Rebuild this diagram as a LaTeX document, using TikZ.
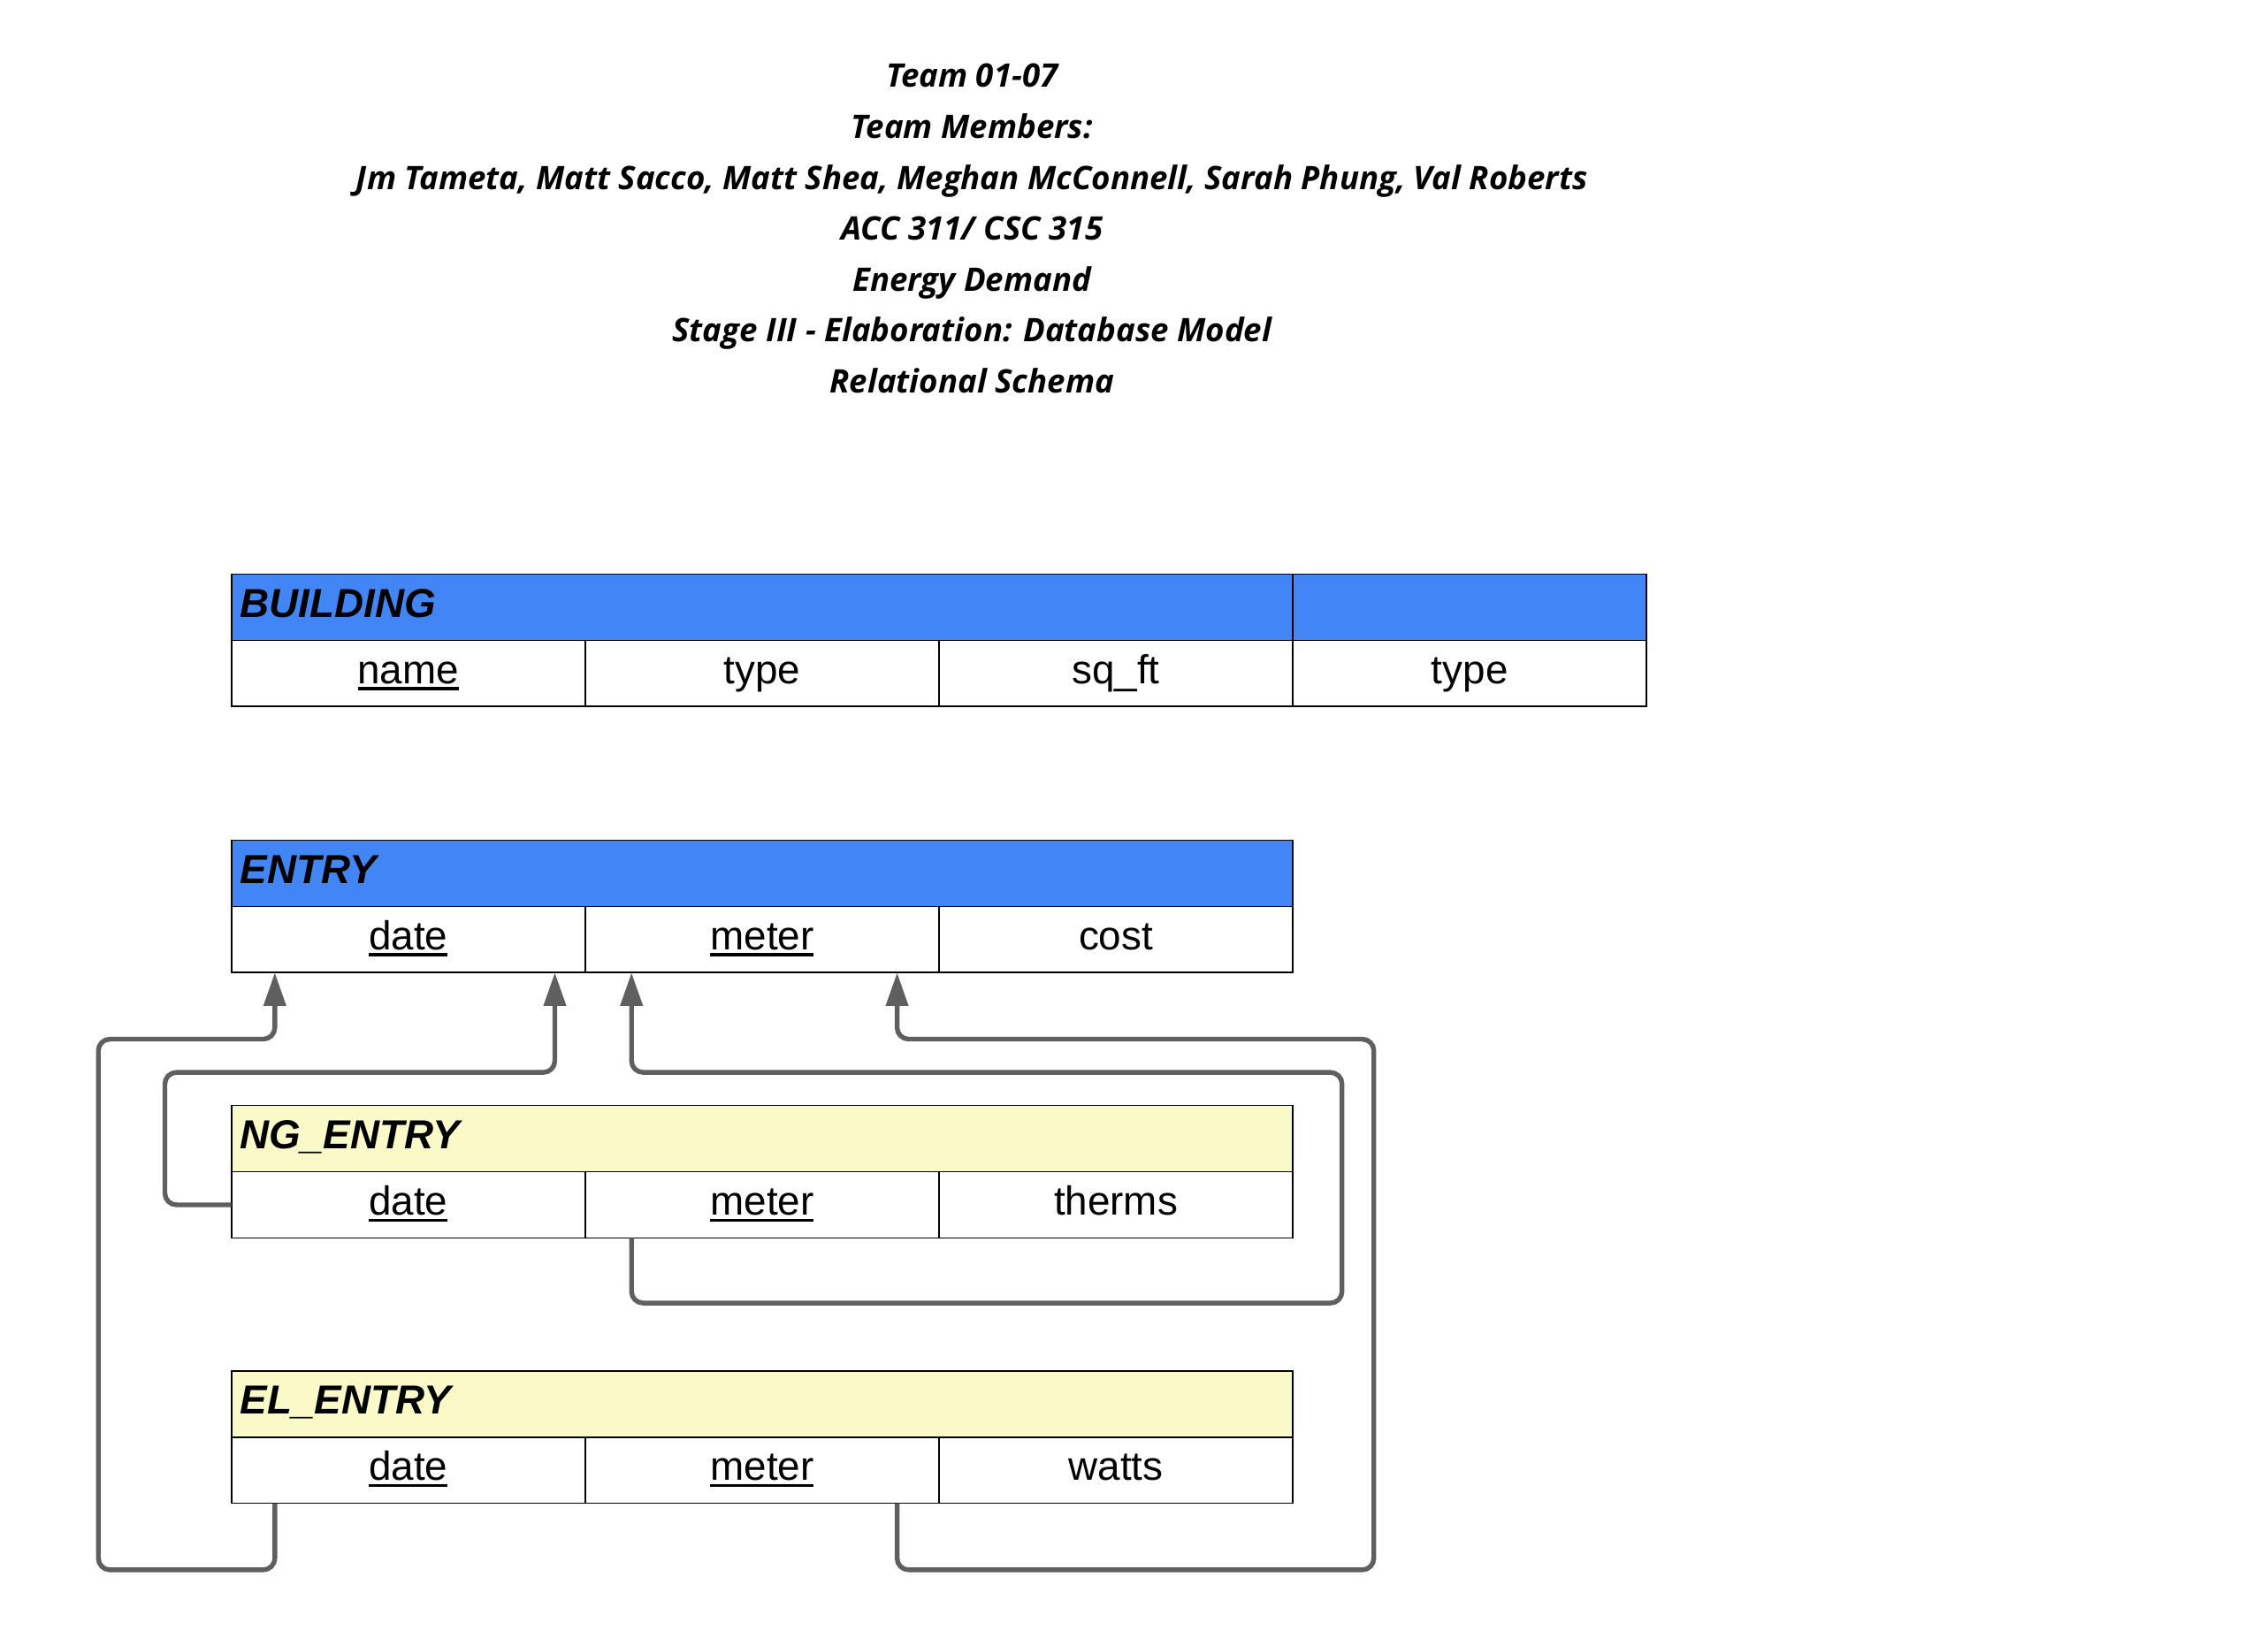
\documentclass[tikz,border=0pt]{standalone}
\usepackage{fontspec}
\usetikzlibrary{positioning}
\usetikzlibrary{arrows.meta}
\newfontfamily\titlefont{Open Sans}
\newfontfamily\cellfont{Liberation Sans}
\definecolor{hdrblue}{HTML}{4285F4}
\definecolor{hdryellow}{HTML}{FAFAC9}
\definecolor{linkgray}{HTML}{5F5F5F}
\newcommand{\pkey}[1]{\vtop{\hbox{#1}\kern2.2pt\hrule height 2.2pt}}

\begin{document}
\begin{tikzpicture}[x=1pt, y=-1pt,
	title/.style={font=\titlefont\bfseries\itshape\fontsize{22.4}{25}\selectfont, anchor=base, inner sep=0},
	cell/.style={draw=black, line width=1pt, minimum width=244.6pt, minimum height=45.8pt, inner sep=0, outer sep=0, anchor=north west, text height=20pt, text depth=6pt, font=\cellfont\fontsize{28}{30}\selectfont},
	head/.style={cell, font=\cellfont\bfseries\itshape\fontsize{28}{30}\selectfont, minimum width=733.8pt, text width=721.8pt, inner xsep=6pt, align=left},
	link/.style={draw=linkgray, line width=3.3pt, rounded corners=8pt, -{Triangle[length=23pt, width=15pt]}}]
	\useasboundingbox (0,0) rectangle (1568,1132.7);
	% title block
	\node[title] (t1) at (672,60.5) {Team 01-07};
	\node[title] (t2) at (672,95.7) {Team Members:};
	\node[title] (t3) at (672,130.9) {Jm Tameta, Matt Sacco, Matt Shea, Meghan McConnell, Sarah Phung, Val Roberts};
	\node[title] (t4) at (672,166) {ACC 311/ CSC 315};
	\node[title] (t5) at (672,201.2) {Energy Demand};
	\node[title] (t6) at (672,236.4) {Stage III - Elaboration: Database Model};
	\node[title] (t7) at (672,271.6) {Relational Schema};
	% BUILDING
	\node[head, fill=hdrblue] (bHead) at (160,397) {BUILDING};
	\node[cell, fill=hdrblue, right=0pt of bHead] (bHeadB) {};
	\node[cell, below right=0pt and 0pt of bHead.south west] (bName) {\pkey{name}};
	\node[cell, right=0pt of bName] (bType) {type};
	\node[cell, right=0pt of bType] (bSqft) {sq\_ft};
	\node[cell, right=0pt of bSqft] (bTypeB) {type};
	% ENTRY
	\node[head, fill=hdrblue] (eHead) at (160,581) {ENTRY};
	\node[cell, below right=0pt and 0pt of eHead.south west] (eDate) {\pkey{date}};
	\node[cell, right=0pt of eDate] (eMeter) {\pkey{meter}};
	\node[cell, right=0pt of eMeter] (eCost) {cost};
	% NG_ENTRY
	\node[head, fill=hdryellow] (ngHead) at (160,764.5) {NG\_ENTRY};
	\node[cell, below right=0pt and 0pt of ngHead.south west] (ngDate) {\pkey{date}};
	\node[cell, right=0pt of ngDate] (ngMeter) {\pkey{meter}};
	\node[cell, right=0pt of ngMeter] (ngTherms) {therms};
	% EL_ENTRY
	\node[head, fill=hdryellow] (elHead) at (160,948) {EL\_ENTRY};
	\node[cell, below right=0pt and 0pt of elHead.south west] (elDate) {\pkey{date}};
	\node[cell, right=0pt of elDate] (elMeter) {\pkey{meter}};
	\node[cell, right=0pt of elMeter] (elWatts) {watts};
	% foreign keys
	\draw[link] ([xshift=30pt]elDate.south west) |- ([xshift=-92pt, yshift=-46pt]elDate.south west) |- ([xshift=30pt, yshift=-46pt]eDate.south west) -- ([xshift=30pt]eDate.south west);
	\draw[link] (ngDate.west) -| ([xshift=-46pt, yshift=-69pt]eDate.south west) -| ([xshift=-21pt]eDate.south east);
	\draw[link] ([xshift=32pt]ngMeter.south west) |- ([xshift=34pt, yshift=-45pt]ngTherms.south east) |- ([xshift=32pt, yshift=-69pt]eMeter.south west) -- ([xshift=32pt]eMeter.south west);
	\draw[link] ([xshift=-29pt]elMeter.south east) |- ([xshift=56pt, yshift=-46pt]elWatts.south east) |- ([xshift=-29pt, yshift=-46pt]eMeter.south east) -- ([xshift=-29pt]eMeter.south east);
\end{tikzpicture}
\end{document}
